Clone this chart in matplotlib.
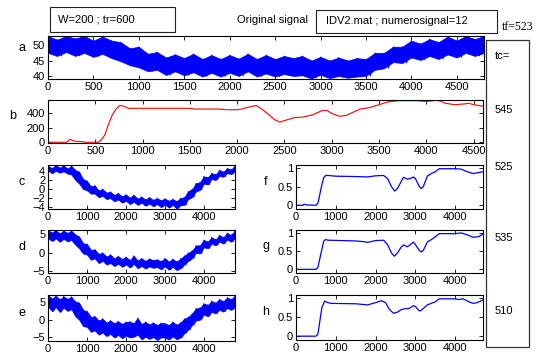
import numpy as np
import matplotlib
matplotlib.use("Agg")
import matplotlib.pyplot as plt
from matplotlib.patches import Rectangle

plt.rcParams['font.family'] = ['Liberation Sans', 'DejaVu Sans']

# --- noisy signals: local peaks and troughs, one pair every 100 samples ---
t_peak = np.arange(0, 4801, 100)

a_hi = [53.0, 51.8, 53.0, 52.2, 53.0, 51.5, 52.8, 51.5, 51.0, 49.0,
        49.5, 47.2, 47.8, 46.0, 47.0, 45.8, 47.2, 45.5, 46.8, 45.5,
        46.8, 45.6, 47.2, 45.5, 46.8, 45.5, 46.5, 45.8, 46.5, 45.0,
        46.2, 45.0, 46.0, 45.0, 45.8, 45.5, 47.5, 47.5, 49.5, 49.5,
        51.5, 50.5, 52.0, 51.0, 52.8, 51.5, 53.0, 52.0, 53.0]
a_lo = [47.5, 46.5, 47.8, 46.5, 47.5, 46.2, 47.2, 45.8, 44.8, 43.5,
        42.8, 41.5, 42.0, 40.3, 41.5, 40.2, 41.2, 39.8, 41.0, 39.8,
        41.0, 40.0, 41.5, 39.8, 40.8, 39.8, 40.6, 40.0, 40.2, 39.2,
        40.4, 39.3, 40.0, 39.4, 39.8, 40.0, 42.0, 42.5, 44.5, 44.2,
        46.0, 45.2, 46.5, 45.5, 47.0, 46.0, 47.5, 46.5, 47.5]

c_hi = [5.2, 4.6, 5.3, 4.7, 5.2, 4.5, 5.1, 4.2, 3.8, 2.2,
        1.8, 0.6, 0.8, -0.3, 0.0, -0.8, -0.6, -1.3, -0.9, -1.6,
        -1.2, -1.9, -1.3, -2.1, -1.7, -2.3, -1.8, -2.4, -2.0, -2.5,
        -2.1, -2.6, -2.2, -2.7, -2.0, -1.8, -0.5, 0.0, 1.3, 1.5,
        2.8, 2.6, 3.5, 3.2, 4.2, 3.8, 4.6, 4.3, 5.2]
c_lo = [4.1, 3.5, 4.0, 3.6, 3.9, 3.4, 3.2, 2.0, 1.2, 0.0,
        -0.3, -1.0, -1.0, -1.8, -1.5, -2.2, -2.0, -2.7, -2.3, -3.0,
        -2.6, -3.3, -2.8, -3.5, -3.0, -3.7, -3.2, -3.8, -3.3, -4.0,
        -3.4, -4.1, -3.5, -4.3, -3.6, -3.5, -2.2, -1.8, -0.5, -0.2,
        1.2, 1.0, 2.2, 2.0, 2.9, 2.7, 3.5, 3.3, 3.9]

d_hi = [6.2, 5.5, 6.2, 5.3, 6.0, 5.4, 6.0, 5.0, 4.4, 2.6,
        2.4, 0.8, 0.9, -0.3, 0.0, -1.0, -0.5, -1.5, -0.9, -1.7,
        -1.1, -2.0, -0.8, -2.1, -1.5, -2.2, -1.6, -2.0, -1.8, -2.3,
        -1.5, -2.4, -1.7, -2.4, -1.6, -0.8, 0.0, 0.6, 2.0, 2.0,
        3.5, 3.0, 4.2, 3.6, 4.8, 4.2, 5.4, 4.8, 6.1]
d_lo = [4.0, 3.2, 3.9, 3.0, 3.8, 3.1, 3.5, 2.2, 1.2, -0.2,
        -0.5, -1.9, -1.5, -2.8, -2.2, -3.2, -2.8, -3.6, -3.0, -3.8,
        -3.2, -4.0, -3.0, -4.2, -3.6, -4.3, -3.7, -4.1, -3.9, -4.5,
        -3.7, -4.6, -3.8, -4.7, -4.2, -3.2, -2.2, -1.5, 0.0, -0.2,
        1.5, 1.2, 2.5, 2.0, 3.0, 2.5, 3.6, 3.0, 4.0]

e_hi = [7.0, 6.0, 6.8, 5.8, 6.6, 5.9, 6.5, 5.2, 4.8, 2.8,
        2.4, 0.8, 1.0, -0.2, 0.3, -0.8, -0.2, -1.0, -0.4, -1.2,
        -0.6, -0.5, -1.0, 0.5, -1.2, -0.6, -1.3, -0.8, -1.5, -0.9,
        -1.0, -1.5, -0.6, -1.4, -0.8, 0.3, 0.8, 1.8, 3.2, 3.4,
        4.6, 4.2, 5.3, 4.8, 5.8, 5.2, 6.3, 5.8, 6.8]
e_lo = [3.8, 2.4, 3.6, 2.2, 3.4, 2.5, 3.0, 1.0, 0.0, -1.8,
        -2.0, -3.4, -3.0, -4.2, -3.6, -4.6, -4.0, -5.0, -4.3, -5.2,
        -4.5, -5.0, -4.8, -4.2, -5.5, -4.8, -5.4, -4.9, -5.7, -5.0,
        -5.0, -5.6, -4.7, -5.5, -5.0, -3.8, -2.8, -1.5, -0.2, 0.0,
        1.5, 1.0, 2.2, 1.8, 2.8, 2.3, 3.3, 2.8, 3.6]

# --- smooth signals ---
b_t = [0, 200, 230, 280, 350, 400, 530, 560, 600, 640, 680, 720, 760, 800,
       850, 1000, 1500, 1550, 1800, 1900, 2000, 2050, 2100, 2200, 2250, 2300,
       2400, 2450, 2500, 2600, 2700, 2800, 2900, 2950, 3000, 3080, 3150, 3300,
       3400, 3500, 3600, 3700, 3900, 4000, 4100, 4150, 4200, 4300, 4400, 4450,
       4500, 4600]
b_v = [0, 0, 40, 15, 10, 0, 0, 30, 100, 250, 380, 460, 510, 500,
       470, 470, 470, 460, 460, 450, 450, 460, 480, 510, 470, 420,
       310, 280, 300, 340, 350, 380, 440, 440, 400, 360, 370, 460,
       480, 520, 560, 575, 575, 565, 580, 570, 540, 520, 530, 540,
       520, 500]

f_t = [0, 180, 200, 250, 500, 550, 600, 650, 700, 750, 800, 1000, 1500, 1800,
       2000, 2200, 2300, 2400, 2480, 2550, 2650, 2700, 2800, 2900, 2950, 3000,
       3100, 3150, 3200, 3300, 3400, 3500, 3600, 3700, 4000, 4150, 4300, 4450,
       4600, 4700]
f_v = [0, 0, 0.03, 0.01, 0, 0.05, 0.3, 0.55, 0.75, 0.8, 0.8, 0.78, 0.77, 0.76,
       0.79, 0.8, 0.72, 0.5, 0.38, 0.45, 0.65, 0.75, 0.7, 0.73, 0.76, 0.72,
       0.5, 0.45, 0.5, 0.78, 0.85, 0.9, 0.98, 0.98, 0.98, 0.97, 0.9, 0.85,
       0.88, 0.9]

g_t = [0, 500, 550, 600, 650, 700, 750, 800, 1500, 1700, 1800, 2000, 2200,
       2300, 2400, 2470, 2550, 2650, 2700, 2800, 2900, 2950, 3000, 3100, 3150,
       3200, 3300, 3450, 3600, 4000, 4150, 4300, 4450, 4600, 4700]
g_v = [0, 0, 0.05, 0.3, 0.55, 0.78, 0.82, 0.8, 0.78, 0.76, 0.74, 0.79, 0.8,
       0.68, 0.45, 0.36, 0.45, 0.62, 0.67, 0.62, 0.7, 0.75, 0.68, 0.52, 0.48,
       0.52, 0.75, 0.85, 0.98, 0.98, 1.0, 0.95, 0.88, 0.9, 0.97]

h_t = [0, 500, 550, 600, 650, 720, 800, 900, 1500, 1700, 1800, 2000, 2150,
       2250, 2350, 2450, 2550, 2650, 2750, 2850, 2950, 3000, 3100, 3150, 3300,
       3500, 3600, 4000, 4100, 4200, 4350, 4450, 4550, 4700]
h_v = [0, 0, 0.05, 0.4, 0.75, 0.92, 0.88, 0.86, 0.85, 0.83, 0.82, 0.88, 0.93,
       0.88, 0.7, 0.6, 0.63, 0.7, 0.72, 0.73, 0.8, 0.78, 0.66, 0.68, 0.82,
       0.9, 0.98, 0.98, 0.96, 0.98, 0.9, 0.86, 0.88, 0.95]

tc_values = ['545', '525', '535', '510']

W, H = 537, 358
fig = plt.figure(figsize=(W / 100, H / 100), dpi=100)


def box(x0, y0, x1, y1):
    # pixel coordinates, origin at top left
    return [x0 / W, 1 - y1 / H, (x1 - x0) / W, (y1 - y0) / H]


def style(ax, xlim, ylim, yticks, xticks):
    ax.set_xlim(*xlim)
    ax.set_ylim(*ylim)
    ax.set_yticks(yticks)
    ax.set_xticks(xticks)
    ax.tick_params(direction='in', top=True, right=True, length=3,
                   width=0.6, labelsize=8, pad=2)
    for s in ax.spines.values():
        s.set_linewidth(0.8)


blue = '#0000ff'


def noisy_band(ax, hi, lo):
    # band between the local peaks and troughs
    ax.fill_between(t_peak, lo, hi, facecolor=blue, edgecolor=blue, lw=0.5)
    # peak -> trough strokes give the ragged edges
    xs = np.empty(2 * len(t_peak))
    ys = np.empty(2 * len(t_peak))
    xs[0::2] = t_peak
    xs[1::2] = t_peak + 50
    ys[0::2] = hi
    ys[1::2] = lo
    ax.plot(xs, ys, color=blue, lw=0.6)


# a
ax = fig.add_axes(box(48, 36, 484, 79))
noisy_band(ax, a_hi, a_lo)
style(ax, (0, 4800), (39, 53), [40, 45, 50], range(0, 4501, 500))

# b
ax = fig.add_axes(box(48, 100, 483, 143))
ax.plot(b_t, b_v, color='#ff0000', lw=0.8)
style(ax, (0, 4600), (-10, 585), [0, 200, 400], range(0, 4501, 500))

# c, d, e
left_specs = [(c_hi, c_lo, 165, 209, (-4.4, 5.3), [-4, -2, 0, 2, 4]),
              (d_hi, d_lo, 230, 273, (-5.5, 6.2), [-5, 0, 5]),
              (e_hi, e_lo, 295, 341, (-6.0, 7.0), [-5, 0, 5])]
for hi, lo, top, bot, yl, yt in left_specs:
    ax = fig.add_axes(box(48, top, 235, bot))
    noisy_band(ax, hi, lo)
    style(ax, (0, 4800), yl, yt, range(0, 4001, 1000))

# f, g, h
right_specs = [(f_t, f_v, 165, 209), (g_t, g_v, 230, 273), (h_t, h_v, 295, 340)]
for tt, vv, top, bot in right_specs:
    ax = fig.add_axes(box(296, top, 483, bot))
    ax.plot(tt, vv, color=blue, lw=0.9)
    style(ax, (0, 4700), (-0.1, 1.08), [0, 0.5, 1], range(0, 4001, 1000))
    ax.set_yticklabels(['0', '0.5', '1'])

# panel letters
for lab, px, py in [('a', 22, 48), ('b', 13, 116), ('c', 22, 182),
                    ('d', 22, 247), ('e', 22, 313), ('f', 266, 182),
                    ('g', 266, 246), ('h', 266, 312)]:
    fig.text(px / W, 1 - py / H, lab, fontsize=9, ha='center', va='center')

# header boxes and texts
fig.add_artist(Rectangle((50 / W, 1 - 32 / H), 125 / W, 25 / H,
                         transform=fig.transFigure, fill=False,
                         edgecolor='#222222', lw=0.8))
fig.text(58 / W, 1 - 19 / H, 'W=200 ; tr=600', fontsize=8, va='center')
fig.text(308 / W, 1 - 20 / H, 'Original signal', fontsize=8,
         va='center', ha='right')
fig.add_artist(Rectangle((316 / W, 1 - 33 / H), 181 / W, 23 / H,
                         transform=fig.transFigure, fill=False,
                         edgecolor='#222222', lw=0.8))
fig.text(326 / W, 1 - 21 / H, 'IDV2.mat ; numerosignal=12', fontsize=8,
         va='center')
fig.text(502 / W, 1 - 27 / H, 'tf=523', fontsize=8.5, va='center',
         family=['Liberation Serif', 'DejaVu Serif'])

# tc box
fig.add_artist(Rectangle((486 / W, 1 - 347 / H), 43 / W, 307 / H,
                         transform=fig.transFigure, fill=False,
                         edgecolor='#333333', lw=0.9))
fig.text(495 / W, 1 - 56 / H, 'tc=', fontsize=8, va='center')
for val, py in zip(tc_values, [110, 167, 238, 311]):
    fig.text(495 / W, 1 - py / H, val, fontsize=8, va='center')

fig.savefig('out.png', dpi=100)
